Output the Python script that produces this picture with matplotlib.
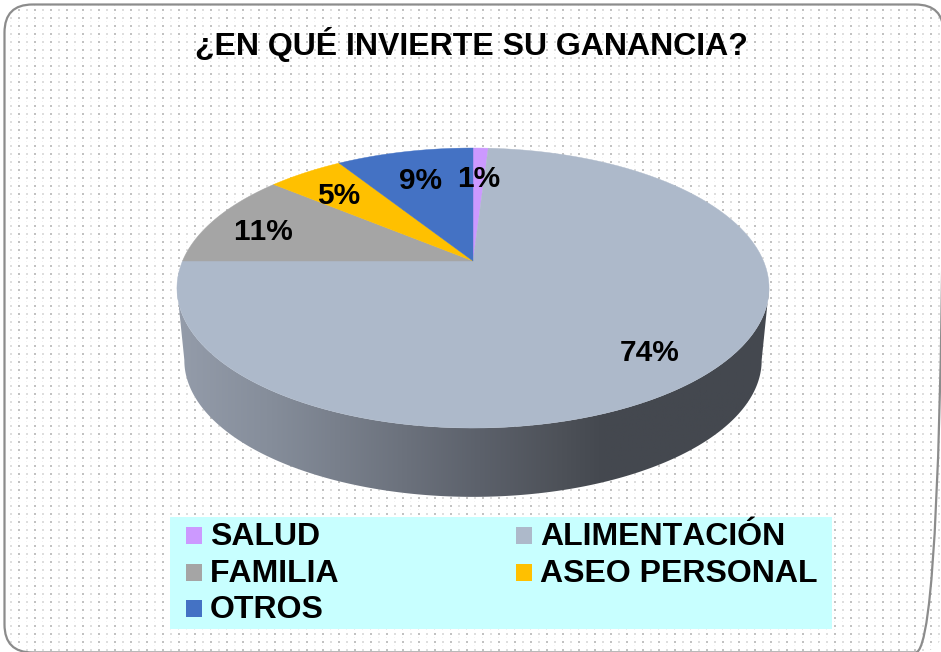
import numpy as np
import matplotlib
matplotlib.use("Agg")
import matplotlib.pyplot as plt
from matplotlib.colors import LinearSegmentedColormap
from matplotlib.patches import FancyBboxPatch, Polygon, Rectangle

plt.rcParams['font.family'] = ['Liberation Sans', 'DejaVu Sans']
plt.rcParams['text.kerning_factor'] = 6

# Dati
categorie = ['SALUD', 'ALIMENTACIÓN', 'FAMILIA', 'ASEO PERSONAL', 'OTROS']
percentuali = [1, 74, 11, 5, 9]
etichette = ['1%', '74%', '11%', '5%', '9%']
colori = ['#CC99FF', '#ADB9CA', '#A5A5A5', '#FFC000', '#4472C4']
titolo = '¿EN QUÉ INVIERTE SU GANANCIA?'

# Geometria del disco, in pixel
cx, cy = 473, 261
sx, sy, k = 290.5, 134.8, 0.193
scala_fondo, cy_fondo = 0.975, 334


def proietta(ang, scala=1.0, yc=cy):
    # ang in senso orario a partire dalle ore 12
    u, v = np.sin(ang), np.cos(ang)
    w = 1 + k * v
    return cx + scala * sx * u / w, yc - scala * sy * v / w


fig = plt.figure(figsize=(9.41, 6.52), dpi=100)
ax = fig.add_axes([0, 0, 1, 1])

# Sfondo a puntini
tile = np.ones((32, 32))
for r in range(1, 32, 4):
    for c in range(2, 32, 8):
        if c % 16 == 2 and r % 8 == 1:
            val, largo = 0.76, 2
        elif r % 8 == 1:
            val, largo = 0.87, 2
        elif c % 16 == 2:
            val, largo = 0.92, 1
        else:
            val, largo = 0.95, 1
        tile[r:r + largo, c:c + largo] = val
sfondo = np.tile(tile, (21, 30))[:652, :941]
bordo = FancyBboxPatch((4.5, 4.5), 939, 648, boxstyle='round,pad=0,rounding_size=28',
                       fc='none', ec='#8c8c8c', lw=1.6, zorder=3)
ax.add_patch(bordo)
im = ax.imshow(sfondo, cmap='gray', vmin=0, vmax=1, extent=(0, 941, 652, 0),
               interpolation='bilinear', aspect='auto', zorder=1)
im.set_clip_path(bordo)

# Fianco del disco con sfumatura
t = np.linspace(0, 2 * np.pi, 721)
ex, ey = proietta(t)
i_d, i_s = np.argmax(ex), np.argmin(ex)
tt = t[i_d:i_s + 1]
bx, by = proietta(tt)
fx, fy = proietta(tt, scala_fondo, cy_fondo)
lato = np.r_[np.c_[bx, by], np.c_[fx[::-1], fy[::-1]]]
poli = Polygon(lato, closed=True, fc='none', ec='none', zorder=4)
ax.add_patch(poli)
cmap = LinearSegmentedColormap.from_list('lato', [(0, '#949CAA'), (0.16, '#858D9A'),
                                                  (0.38, '#6C727D'), (0.51, '#5C616B'),
                                                  (0.65, '#4D5158'), (0.72, '#44484F'),
                                                  (1, '#44484F')])
grad = ax.imshow(np.linspace(0, 1, 256)[None, :], cmap=cmap, aspect='auto',
                 extent=(ex.min(), ex.max(), fy.max() + 1, by.min() - 1), zorder=4)
grad.set_clip_path(poli)
ax.set_xlim(0, 941)
ax.set_ylim(652, 0)
ax.axis('off')

# Spicchi
cum = np.cumsum([0] + percentuali) / sum(percentuali) * 2 * np.pi
for a0, a1, col in zip(cum[:-1], cum[1:], colori):
    px, py = proietta(np.linspace(a0, a1, 120))
    ax.add_patch(Polygon(np.r_[[[cx, cy]], np.c_[px, py]], closed=True, fc=col,
                         ec=col, lw=0.3, zorder=5))

# Etichette
pos_etichette = [(479, 179), (650, 353), (263, 232), (339, 196), (421, 181)]
for txt, (x, y) in zip(etichette, pos_etichette):
    ax.text(x, y, txt, ha='center', va='center', fontsize=21.5, fontweight='bold',
            color='black', zorder=6)

ax.text(471, 44, titolo, ha='center', va='center', fontsize=23, fontweight='bold',
        color='black', zorder=6)

# Legenda
ax.add_patch(Rectangle((170, 517), 662, 112, fc='#C8FFFF', ec='none', zorder=5))
pos_legenda = [(186, 535), (516, 535), (186, 572), (516, 572), (186, 608)]
for nome, col, (x, y) in zip(categorie, colori, pos_legenda):
    ax.add_patch(Rectangle((x, y - 8), 16, 17, fc=col, ec='none', zorder=6))
    ax.text(x + 24, y + 2, nome, ha='left', va='center', fontsize=23, fontweight='bold',
            color='black', zorder=6)

fig.savefig('out.png', dpi=100, facecolor='white')
